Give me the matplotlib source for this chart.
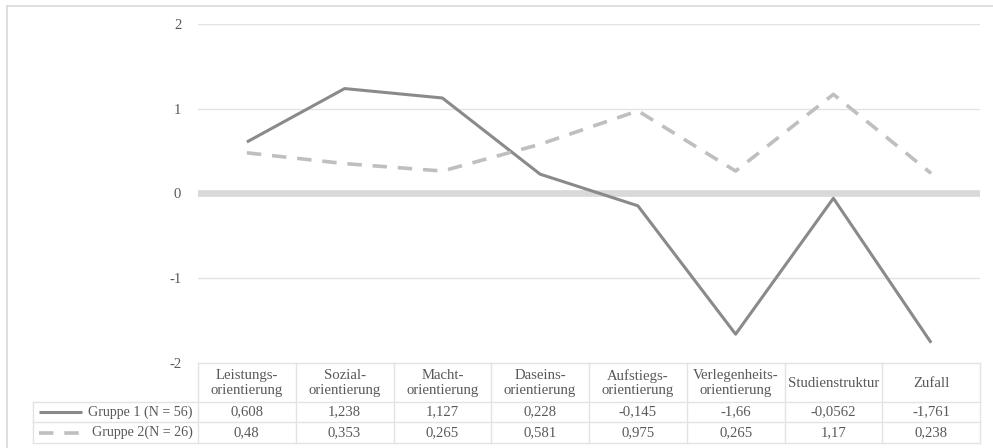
import matplotlib
matplotlib.use("Agg")
import matplotlib.pyplot as plt
from matplotlib.lines import Line2D
from matplotlib.transforms import blended_transform_factory

# Werte der beiden Gruppen je Studienwahlmotiv
kategorien = ["Leistungs-\norientierung", "Sozial-\norientierung", "Macht-\norientierung",
              "Daseins-\norientierung", "Aufstiegs-\norientierung", "Verlegenheits-\norientierung",
              "Studienstruktur", "Zufall"]
gruppe1 = [0.608, 1.238, 1.127, 0.228, -0.145, -1.66, -0.0562, -1.761]
gruppe2 = [0.48, 0.353, 0.265, 0.581, 0.975, 0.265, 1.17, 0.238]
namen = ["Gruppe 1 (N = 56)", "Gruppe 2(N = 26)"]
y_ticks = [-2, -1, 0, 1, 2]

W, H = 993, 448
plt.rcParams["font.family"] = ["Liberation Serif", "DejaVu Serif"]
plt.rcParams["font.size"] = 10.6

fig = plt.figure(figsize=(W / 100, H / 100), dpi=100)
ax = fig.add_axes([198 / W, (H - 363) / H, 782 / W, 339 / H])

TXT = "#595959"
GRID = "#e3e3e3"
stil1 = dict(color="#8a8a8a", lw=2.2, solid_capstyle="butt")
stil2 = dict(color="#bfbfbf", lw=2.6, linestyle=(0, (4, 3)), dash_capstyle="butt")

x = list(range(len(kategorien)))
ax.plot(x, gruppe1, zorder=3, **stil1)
ax.plot(x, gruppe2, zorder=3, **stil2)

ax.set_xlim(-0.5, len(kategorien) - 0.5)
ax.set_ylim(-2, 2)
ax.set_yticks(y_ticks)
ax.set_yticklabels([str(t) for t in y_ticks], color=TXT)
ax.tick_params(axis="y", length=0, pad=12)
ax.set_xticks([])
for s in ax.spines.values():
    s.set_visible(False)
for t in y_ticks[1:]:
    if t == 0:
        ax.axhline(0, color="#d9d9d9", lw=4.8, zorder=1)
    else:
        ax.axhline(t, color=GRID, lw=1, zorder=1)


def fy(py):
    return (H - py) / H


def fx(px):
    return px / W


# Datentabelle unter dem Diagramm
tr = blended_transform_factory(ax.transData, fig.transFigure)
y_top, y_hdr, y_r1, y_r2 = 363, 402, 422, 443
linie = dict(color=GRID, lw=1, clip_on=False)

fig.add_artist(Line2D([fx(198), fx(980)], [fy(y_top)] * 2, **linie))
for yy in (y_hdr, y_r1, y_r2):
    fig.add_artist(Line2D([fx(33), fx(980)], [fy(yy)] * 2, **linie))
fig.add_artist(Line2D([fx(33), fx(33)], [fy(y_hdr), fy(y_r2)], **linie))
for i in range(len(kategorien) + 1):
    ax.plot([i - 0.5, i - 0.5], [fy(y_top), fy(y_r2)], transform=tr, **linie)


def fmt(v):
    return str(v).replace(".", ",")


for i, k in enumerate(kategorien):
    ax.text(i, fy((y_top + y_hdr) / 2 + 0.5), k, transform=tr, ha="center", va="center",
            color=TXT, linespacing=1.15)
    ax.text(i, fy((y_hdr + y_r1) / 2), fmt(gruppe1[i]), transform=tr,
            ha="center", va="center", color=TXT)
    ax.text(i, fy((y_r1 + y_r2) / 2), fmt(gruppe2[i]), transform=tr,
            ha="center", va="center", color=TXT)

# Legendenmuster in der Zeilenbeschriftung
for (oben, unten), name, stil in zip([(y_hdr, y_r1), (y_r1, y_r2)], namen, [stil1, stil2]):
    ym = fy((oben + unten) / 2)
    fig.add_artist(Line2D([fx(39), fx(82)], [ym, ym], **stil))
    fig.text(fx(193), ym, name, ha="right", va="center", color=TXT, fontsize=10.1)

# Rahmen des Diagrammbereichs
rahmen = dict(color="#d9d9d9", lw=1.2)
fig.add_artist(Line2D([fx(6.5), 1], [fy(6.5)] * 2, **rahmen))
fig.add_artist(Line2D([fx(6.5)] * 2, [fy(6.5), 0], **rahmen))

fig.savefig("out.png", dpi=100)
